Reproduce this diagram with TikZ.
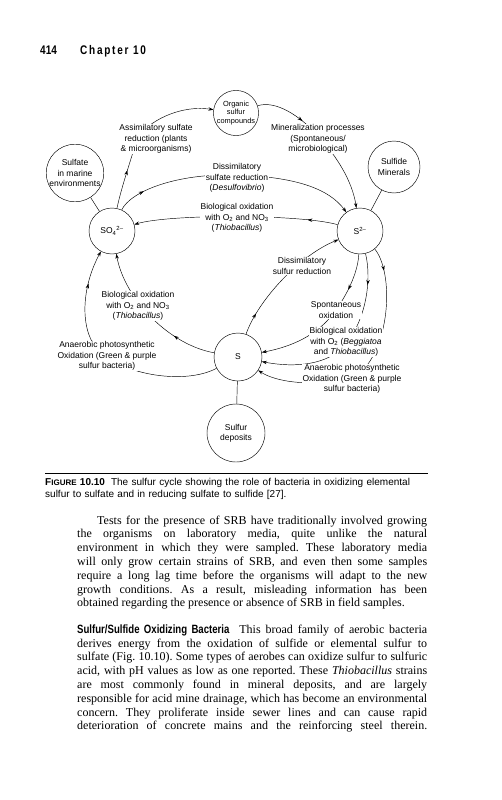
\documentclass[tikz,border=0pt]{standalone}
\usepackage{fontspec}
\setmainfont{Liberation Serif}
\setsansfont{Liberation Sans}
\newfontfamily\condfont[FakeStretch=0.8]{Liberation Sans}
\usepackage{tikz}
\usetikzlibrary{arrows.meta}
\usetikzlibrary{decorations.markings}
\pgfdeclarelayer{back}
\pgfsetlayers{back,main}
\newcommand{\dfont}{\sffamily\fontsize{8.5}{10.3}\selectfont}
\frenchspacing

\begin{document}
\begin{tikzpicture}[x=1pt,y=1pt,>={Stealth[length=5pt,width=3.4pt]},flow/.style={line width=0.45pt},
  arrowat/.style={postaction={decorate},decoration={markings,mark=at position #1 with {\arrow{>}}}}]
  \tikzstyle{blob}=[circle,draw,line width=0.45pt,fill=white,inner sep=0pt,align=center,font=\dfont]
  \tikzstyle{lbl}=[fill=white,inner sep=1pt,align=center,font=\dfont]
  \useasboundingbox (0,0) rectangle (501,-800);

  % running head
  \node[anchor=base west,inner sep=0pt,font={\condfont\bfseries\fontsize{12.5}{14}\selectfont}] (pgno) at (40,-55) {414};
  \node[anchor=base west,inner sep=0pt,font={\condfont\bfseries\fontsize{12.5}{14}\selectfont}] (chap) at (80,-55) {\addfontfeature{LetterSpace=14}Chapter 10};

  % pools of sulfur
  \node[blob,minimum size=45pt,font=\sffamily\fontsize{7.4}{8.6}\selectfont] (org) at (236,-113) {Organic\\sulfur\\compounds};
  \node[blob,minimum size=56pt] (sea)  at (75,-173)  {Sulfate\\in marine\\environments};
  \node[blob,minimum size=52pt] (mins) at (394,-167) {Sulfide\\Minerals};
  \node[blob,minimum size=46pt] (so4)  at (112,-231) {SO\textsubscript{4}\textsuperscript{2--}};
  \node[blob,minimum size=46pt] (s2)   at (360,-231) {S\textsuperscript{2--}};
  \node[blob,minimum size=48pt] (s)    at (238,-357) {S};
  \node[blob,minimum size=58pt] (dep)  at (236,-433) {Sulfur\\deposits};

  % processes
  \node[lbl] (assim) at (156,-139) {Assimilatory sulfate\\reduction (plants\\\& microorganisms)};
  \node[lbl] (minz)  at (318,-139) {Mineralization processes\\(Spontaneous/\\microbiological)};
  \node[lbl] (dsr)   at (237,-178) {Dissimilatory\\sulfate reduction\\(\textit{Desulfovibrio})};
  \node[lbl] (boxt)  at (237,-218) {Biological oxidation\\with O\textsubscript{2} and NO\textsubscript{3}\\(\textit{Thiobacillus})};
  \node[lbl] (dsu)   at (302,-266) {Dissimilatory\\sulfur reduction};
  \node[lbl] (boxl)  at (138,-306) {Biological oxidation\\with O\textsubscript{2} and NO\textsubscript{3}\\(\textit{Thiobacillus})};
  \node[lbl] (anl)   at (107,-356) {Anaerobic photosynthetic\\Oxidation (Green \& purple\\sulfur bacteria)};
  \node[lbl] (spox)  at (336,-310) {Spontaneous\\oxidation};
  \node[lbl] (boxr)  at (346,-342) {Biological oxidation\\with O\textsubscript{2} (\textit{Beggiatoa}\\and \textit{Thiobacillus})};
  \node[lbl] (anr)   at (352,-379) {Anaerobic photosynthetic\\Oxidation (Green \& purple\\sulfur bacteria)};

  \begin{pgfonlayer}{back}
  \draw[flow] (sea) -- (so4);
  \draw[flow] (mins) -- (s2);
  \draw[flow] (s) -- (dep);
  \draw[flow,->,arrowat=0.25] (so4) .. controls (122,-185) and (131,-160) .. (136,-142) .. controls (140,-127) and (175,-104) .. (org);
  \draw[flow,->,arrowat=0.32] (org) .. controls (275,-100) and (300,-115) .. (320,-138) .. controls (336,-156) and (352,-180) .. (s2);
  \draw[flow,->,arrowat=0.12] (so4) .. controls (130,-192) and (175,-173) .. (237,-175) .. controls (299,-177) and (330,-190) .. (s2);
  \draw[flow,->,arrowat=0.15] (s2) .. controls (300,-214) and (170,-214) .. (so4);
  \draw[flow,->,arrowat=0.17] (s) .. controls (258,-300) and (300,-255) .. (s2);
  \draw[flow,->,arrowat=0.3] (s) .. controls (170,-345) and (125,-300) .. (so4);
  \draw[flow,->,arrowat=0.85] (s) .. controls (185,-385) and (125,-375) .. (100,-352) .. controls (80,-334) and (80,-290) .. (so4);
  \draw[flow,->,arrowat=0.25] (s2) .. controls (358,-270) and (350,-290) .. (336,-310) .. controls (322,-330) and (300,-345) .. (s);
  \draw[flow,->,arrowat=0.17] (s2) .. controls (372,-280) and (366,-320) .. (345,-345) .. controls (328,-365) and (295,-368) .. (s);
  \draw[flow,->,arrowat=0.1] (s2) .. controls (392,-270) and (392,-335) .. (365,-368) .. controls (350,-386) and (285,-388) .. (s);
  \end{pgfonlayer}

  % caption
  \draw[line width=0.8pt] (45,-473) -- (428,-473);
  \node[anchor=north west,inner sep=0pt,text width=383pt,align=left,font=\sffamily\fontsize{10}{11.5}\selectfont] (cap) at (45,-478.5)
    {\textbf{F{\fontsize{8}{9}\selectfont IGURE} 10.10}\hspace{6pt}The sulfur cycle showing the role of bacteria in oxidizing elemental\\sulfur to sulfate and in reducing sulfate to sulfide [27].};

  % body text
  \node[anchor=north west,inner sep=0pt,text width=350pt,align=justify,font=\rmfamily\fontsize{12}{13.8}\selectfont] (para1) at (77,-515.5)
    {\hspace*{20pt}Tests for the presence of SRB have traditionally involved growing\linebreak
     the organisms on laboratory media, quite unlike the natural\linebreak
     environment in which they were sampled. These laboratory media\linebreak
     will only grow certain strains of SRB, and even then some samples\linebreak
     require a long lag time before the organisms will adapt to the new\linebreak
     growth conditions. As a result, misleading information has been\linebreak
     obtained regarding the presence or absence of SRB in field samples.};
  \node[anchor=north west,inner sep=0pt,text width=350pt,align=justify,font=\rmfamily\fontsize{12}{13.8}\selectfont] (para2) at (77,-624.3)
    {{\condfont\bfseries Sulfur/Sulfide Oxidizing Bacteria}\hspace{10pt}This broad family of aerobic bacteria\linebreak
     derives energy from the oxidation of sulfide or elemental sulfur to\linebreak
     sulfate (Fig.~10.10). Some types of aerobes can oxidize sulfur to sulfuric\linebreak
     acid, with pH values as low as one reported. These \textit{Thiobacillus} strains\linebreak
     are most commonly found in mineral deposits, and are largely\linebreak
     responsible for acid mine drainage, which has become an environmental\linebreak
     concern. They proliferate inside sewer lines and can cause rapid\linebreak
     deterioration of concrete mains and the reinforcing steel therein.\linebreak};
\end{tikzpicture}
\end{document}
